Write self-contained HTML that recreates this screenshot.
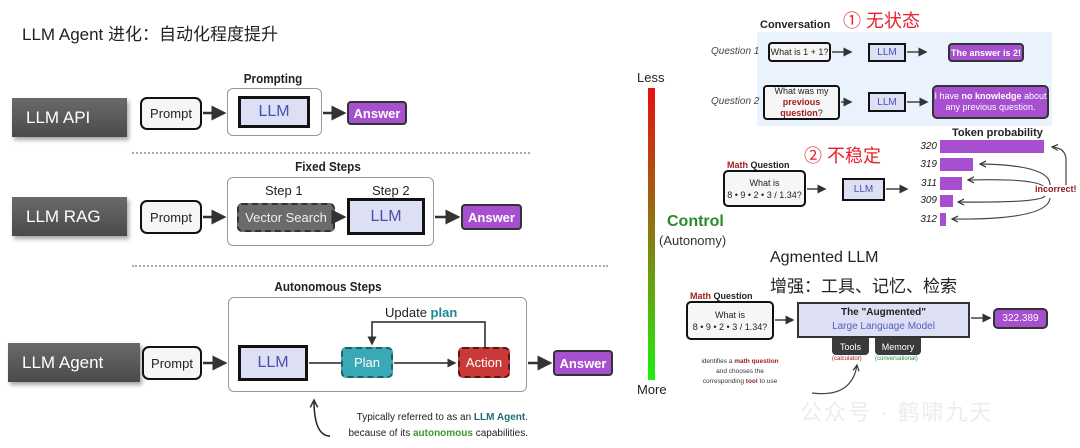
<!DOCTYPE html>
<html><head><meta charset="utf-8">
<style>
*{margin:0;padding:0;box-sizing:border-box}
body{width:1080px;height:448px;background:#fff;position:relative;overflow:hidden;font-family:"Liberation Sans","Noto Sans CJK SC",sans-serif;color:#222}
.a{position:absolute}
.c{display:flex;align-items:center;justify-content:center;text-align:center}
.lab{background:linear-gradient(#6a6a6a,#4a4a4a);color:#fff;font-size:17px;box-shadow:2px 3px 4px rgba(0,0,0,.35);justify-content:flex-start;padding-left:14px}
.pr{border:2px solid #111;border-radius:7px;background:#f6f6f6;font-size:13px}
.llm{border:3px solid #111;background:#dde0f4;color:#4650b0;font-size:16px}
.ans{border:2px solid #333;border-radius:4px;background:#a64fcf;color:#fff;font-weight:bold;font-size:13px}
.out{border:1px solid #999;border-radius:6px}
.t{font-weight:bold;font-size:13px;transform:scaleX(.9)}
.dash{border-top:2px dotted #aaa;height:0}
</style></head><body>
<div class="a" style="left:22px;top:20px;font-size:17px">LLM Agent 进化：自动化程度提升</div>

<!-- row 1 -->
<div class="a c lab" style="left:12px;top:98px;width:115px;height:39px">LLM API</div>
<div class="a c pr" style="left:140px;top:97px;width:62px;height:33px">Prompt</div>
<div class="a c t" style="left:232px;top:71px;width:82px">Prompting</div>
<div class="a out" style="left:227px;top:88px;width:95px;height:48px"></div>
<div class="a c llm" style="left:238px;top:96px;width:72px;height:32px">LLM</div>
<div class="a c ans" style="left:347px;top:101px;width:60px;height:24px">Answer</div>
<div class="a dash" style="left:132px;top:152px;width:398px"></div>

<!-- row 2 -->
<div class="a c lab" style="left:12px;top:197px;width:115px;height:39px">LLM RAG</div>
<div class="a c pr" style="left:140px;top:200px;width:62px;height:34px">Prompt</div>
<div class="a c t" style="left:278px;top:159px;width:100px">Fixed Steps</div>
<div class="a out" style="left:227px;top:177px;width:207px;height:69px"></div>
<div class="a" style="left:265px;top:183px;font-size:13px">Step 1</div>
<div class="a" style="left:372px;top:183px;font-size:13px">Step 2</div>
<div class="a c" style="left:237px;top:203px;width:98px;height:29px;border:2px dashed #333;border-radius:5px;background:#6b6b6b;color:#eee;font-size:13px">Vector Search</div>
<div class="a c llm" style="left:347px;top:198px;width:78px;height:37px">LLM</div>
<div class="a c ans" style="left:461px;top:204px;width:61px;height:26px">Answer</div>
<div class="a dash" style="left:132px;top:265px;width:476px"></div>

<!-- row 3 -->
<div class="a c lab" style="left:8px;top:343px;width:132px;height:39px">LLM Agent</div>
<div class="a c pr" style="left:142px;top:346px;width:60px;height:34px">Prompt</div>
<div class="a c t" style="left:268px;top:279px;width:120px">Autonomous Steps</div>
<div class="a out" style="left:228px;top:297px;width:299px;height:95px"></div>
<div class="a" style="left:385px;top:305px;font-size:13px">Update <b style="color:#1b8a95">plan</b></div>
<div class="a c llm" style="left:238px;top:345px;width:70px;height:36px">LLM</div>
<div class="a c" style="left:341px;top:347px;width:52px;height:31px;border:2px dashed #1f5f66;border-radius:5px;background:#3aa9b5;color:#fff;font-size:13px">Plan</div>
<div class="a c" style="left:458px;top:347px;width:52px;height:31px;border:2px dashed #5a1515;border-radius:5px;background:#c83a3a;color:#fff;font-size:13px">Action</div>
<div class="a c ans" style="left:553px;top:350px;width:60px;height:26px">Answer</div>
<div class="a" style="left:330px;top:410px;font-size:10px;line-height:16px;text-align:right;width:198px">Typically referred to as an <b style="color:#1b6f7a">LLM Agent</b>.<br>because of its <b style="color:#3a9a2a">autonomous</b> capabilities.</div>

<div class="a" style="left:637px;top:70px;font-size:13px">Less</div>
<div class="a" style="left:637px;top:382px;font-size:13px">More</div>
<div class="a" style="left:667px;top:213px;font-size:16px;font-weight:bold;color:#2a8a2a">Control</div>
<div class="a" style="left:659px;top:233px;font-size:13px;color:#333">(Autonomy)</div>

<!-- top right -->
<div class="a" style="left:760px;top:19px;font-size:11px;font-weight:bold">Conversation</div>
<div class="a" style="left:843px;top:7px;font-size:18px;color:#e8202a">① 无状态</div>
<div class="a" style="left:757px;top:32px;width:295px;height:94px;background:#eaf2fd"></div>
<div class="a" style="left:711px;top:46px;font-size:10px;font-style:italic;color:#444">Question 1</div>
<div class="a" style="left:711px;top:96px;font-size:10px;font-style:italic;color:#444">Question 2</div>
<div class="a c pr" style="left:768px;top:42px;width:63px;height:20px;font-size:9px;border-radius:4px">What is 1 + 1?</div>
<div class="a c llm" style="left:868px;top:43px;width:38px;height:19px;font-size:10px;border-width:2px">LLM</div>
<div class="a c ans" style="left:948px;top:43px;width:76px;height:19px;font-size:9px">The answer is 2!</div>
<div class="a c pr" style="left:763px;top:85px;width:77px;height:35px;font-size:9px;border-radius:4px;line-height:11px"><div>What was my<br><b style="color:#a02020">previous question</b>?</div></div>
<div class="a c llm" style="left:868px;top:92px;width:38px;height:20px;font-size:10px;border-width:2px">LLM</div>
<div class="a c ans" style="left:932px;top:85px;width:117px;height:34px;font-size:9px;font-weight:normal;line-height:11px;border-radius:5px"><div>I have <b>no knowledge</b> about<br>any previous question.</div></div>

<div class="a" style="left:952px;top:127px;font-size:11px;font-weight:bold">Token probability</div>
<div class="a" style="left:804px;top:142px;font-size:18px;color:#e8202a">② 不稳定</div>
<div class="a" style="left:940px;top:140px;width:104px;height:13px;background:#a64fcf"></div>
<div class="a" style="left:940px;top:158px;width:33px;height:13px;background:#a64fcf"></div>
<div class="a" style="left:940px;top:177px;width:22px;height:13px;background:#a64fcf"></div>
<div class="a" style="left:940px;top:195px;width:13px;height:12px;background:#a64fcf"></div>
<div class="a" style="left:940px;top:213px;width:6px;height:13px;background:#a64fcf"></div>
<div class="a" style="left:900px;top:140px;width:37px;text-align:right;font-size:10px;font-style:italic;line-height:13px">320</div>
<div class="a" style="left:900px;top:158px;width:37px;text-align:right;font-size:10px;font-style:italic;line-height:13px">319</div>
<div class="a" style="left:900px;top:177px;width:37px;text-align:right;font-size:10px;font-style:italic;line-height:13px">311</div>
<div class="a" style="left:900px;top:194px;width:37px;text-align:right;font-size:10px;font-style:italic;line-height:13px">309</div>
<div class="a" style="left:900px;top:213px;width:37px;text-align:right;font-size:10px;font-style:italic;line-height:13px">312</div>
<div class="a" style="left:727px;top:160px;font-size:9px;font-weight:bold"><span style="color:#a02020">Math</span> Question</div>
<div class="a c pr" style="left:723px;top:170px;width:83px;height:37px;font-size:9px;line-height:12px;border-radius:5px"><div>What is<br>8 • 9 • 2 • 3 / 1.34?</div></div>
<div class="a c llm" style="left:842px;top:178px;width:43px;height:23px;font-size:10px;border-width:2px">LLM</div>

<!-- bottom right -->
<div class="a" style="left:770px;top:249px;font-size:16px">Agmented LLM</div>
<div class="a" style="left:770px;top:272px;font-size:17px">增强：工具、记忆、检索</div>
<div class="a" style="left:690px;top:291px;font-size:9px;font-weight:bold"><span style="color:#a02020">Math</span> Question</div>
<div class="a c pr" style="left:686px;top:301px;width:88px;height:39px;font-size:9px;line-height:12px;border-radius:5px"><div>What is<br>8 • 9 • 2 • 3 / 1.34?</div></div>
<div class="a c" style="left:797px;top:302px;width:173px;height:36px;border:2px solid #333;background:#dde0f4;font-size:10px;line-height:14px;font-weight:bold"><div>The "Augmented"<br><span style="color:#5060c0;font-weight:normal">Large Language Model</span></div></div>
<div class="a c ans" style="left:993px;top:308px;width:55px;height:21px;font-size:10px;font-weight:normal;border-radius:5px">322.389</div>
<div class="a c" style="left:832px;top:338px;width:37px;height:17px;background:#3a3a3a;color:#fff;font-size:9px;border-radius:0 0 4px 4px">Tools</div>
<div class="a c" style="left:875px;top:338px;width:46px;height:17px;background:#3a3a3a;color:#fff;font-size:9px;border-radius:0 0 4px 4px">Memory</div>
<div class="a" style="left:832px;top:356px;font-size:6px;color:#a02020">(calculator)</div>
<div class="a" style="left:875px;top:356px;font-size:6px;color:#2a8a3a">(conversational)</div>
<div class="a" style="left:690px;top:357px;width:100px;text-align:center;font-size:6.5px;line-height:10px;color:#333">identifies a <b style="color:#a02020">math question</b><br>and chooses the<br>corresponding <b style="color:#a02020">tool</b> to use</div>
<div class="a" style="left:800px;top:395px;font-size:22px;color:#ececec;letter-spacing:2px">公众号 · 鹤啸九天</div>

<svg class="a" style="left:0;top:0" width="1080" height="448">
<defs><marker id="m" markerWidth="6" markerHeight="6" refX="5" refY="3" orient="auto"><path d="M0,0L6,3L0,6z" fill="#333"/></marker>
<marker id="s" markerWidth="6" markerHeight="6" refX="5" refY="3" orient="auto"><path d="M0,0.5L5,3L0,5.5" fill="none" stroke="#333" stroke-width="1"/></marker>
<linearGradient id="g" x1="0" y1="0" x2="0" y2="1"><stop offset="0" stop-color="#e81010"/><stop offset=".5" stop-color="#8a7a10"/><stop offset="1" stop-color="#20ee10"/></linearGradient></defs>
<g stroke="#333" stroke-width="2.5" fill="none" marker-end="url(#m)">
<line x1="203" y1="113" x2="224" y2="113"/><line x1="323" y1="113" x2="344" y2="113"/>
<line x1="203" y1="217" x2="224" y2="217"/><line x1="336" y1="217" x2="344" y2="217"/><line x1="435" y1="217" x2="458" y2="217"/>
<line x1="203" y1="363" x2="225" y2="363"/><line x1="528" y1="363" x2="550" y2="363"/>
</g>
<g stroke="#222" stroke-width="1.5" fill="none">
<line x1="309" y1="363" x2="341" y2="363"/>
<line x1="394" y1="363" x2="455" y2="363" marker-end="url(#m)"/>
<polyline points="485,347 485,322 372,322 372,344" marker-end="url(#m)"/>
<path d="M330,436 Q314,436 314,400" marker-end="url(#s)"/>
</g>
<rect x="648" y="88" width="7" height="292" fill="url(#g)"/>
<g stroke="#444" stroke-width="1.5" fill="none" marker-end="url(#m)">
<line x1="832" y1="52" x2="851" y2="52"/><line x1="907" y1="52" x2="926" y2="52"/>
<line x1="841" y1="102" x2="851" y2="102"/><line x1="907" y1="102" x2="927" y2="102"/>
<line x1="807" y1="189" x2="825" y2="189"/><line x1="886" y1="189" x2="907" y2="189"/>
<line x1="775" y1="320" x2="793" y2="320"/><line x1="971" y1="318" x2="990" y2="318"/>
</g>
<g stroke="#444" stroke-width="1.2" fill="none" marker-end="url(#s)">
<path d="M1066,185 L1066,160 Q1066,148 1052,147"/>
<path d="M1050,185 Q1050,165 980,164"/>
<path d="M1045,188 Q1040,178 968,180"/>
<path d="M1045,196 Q1040,203 958,202"/>
<path d="M1050,198 Q1048,220 952,219"/>
<path d="M812,393 Q852,398 857,365"/>
</g>
<text x="1035" y="192" font-size="9" font-weight="bold" fill="#8a1a1a" stroke="#fff" stroke-width="3" paint-order="stroke" font-family="Liberation Sans">incorrect!</text>
</svg>
</body></html>
